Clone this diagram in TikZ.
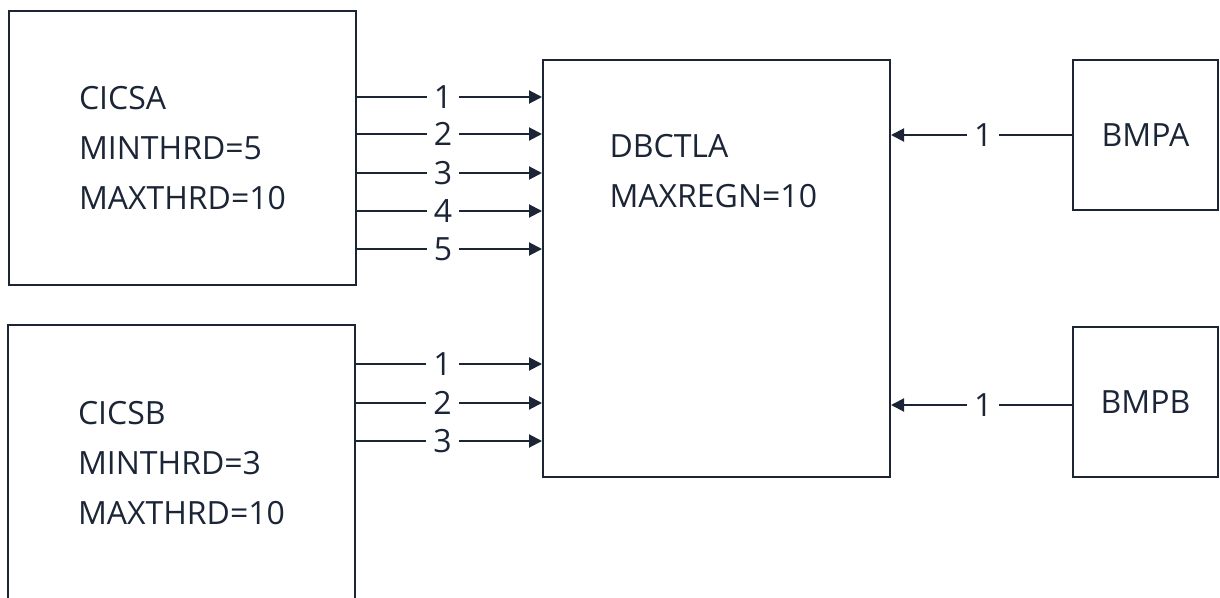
\documentclass[tikz,border=0pt]{standalone}
\usepackage{fontspec}
\setmainfont{Open Sans}
\usepackage{xcolor}
\usetikzlibrary{arrows.meta, positioning}
\definecolor{inkblue}{HTML}{1B2536}

\begin{document}
\begin{tikzpicture}[
    x=1pt, y=-1pt,
    every node/.style={font=\fontsize{32}{50}\selectfont, text=inkblue},
    region/.style={draw=inkblue, line width=2pt, align=left},
    link/.style={draw=inkblue, line width=2pt, -{Triangle[length=13pt,width=13pt]}},
    num/.style={fill=white, inner xsep=7pt, inner ysep=1pt}
]
\useasboundingbox (0,0) rectangle (1220,597);

% CICS regions
\node[region, minimum width=347pt, minimum height=274pt] (cicsa) at (182.5,148) {CICSA\\MINTHRD=5\\MAXTHRD=10};
\node[region, minimum width=347pt, minimum height=276pt] (cicsb) at (181.5,463) {CICSB\\MINTHRD=3\\MAXTHRD=10};

% DBCTL
\node[region, minimum width=347pt, minimum height=417pt] (dbctla) at (716.5,268.5) {};
\node[align=left, anchor=west] (dbctlatxt) at (606,171.5) {DBCTLA\\MAXREGN=10};

% BMPs
\node[region, minimum width=145pt, minimum height=150pt] (bmpa) at (1145.5,135) {BMPA};
\node[region, minimum width=145pt, minimum height=150pt] (bmpb) at (1145.5,402) {BMPB};

% threads
\foreach \n/\y in {1/97, 2/134, 3/173, 4/211, 5/249}
    \draw[link] (cicsa.east |- 0,\y) -- node[num, pos=0.465] {\n} (dbctla.west |- 0,\y);
\foreach \n/\y in {1/364, 2/403, 3/441}
    \draw[link] (cicsb.east |- 0,\y) -- node[num, pos=0.465] {\n} (dbctla.west |- 0,\y);

\draw[link] (bmpa.west) -- node[num, pos=0.49] {1} (dbctla.east |- bmpa.west);
\draw[link] (bmpb.west |- 0,405) -- node[num, pos=0.49] {1} (dbctla.east |- 0,405);

\end{tikzpicture}
\end{document}
